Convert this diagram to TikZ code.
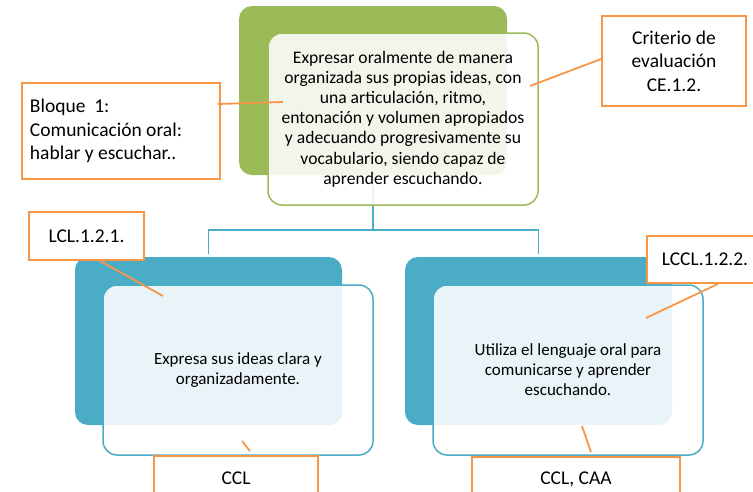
\documentclass[tikz,border=0pt]{standalone}
\usepackage{fontspec}
\setmainfont{Carlito}
\usepackage{tikz}
\usetikzlibrary{positioning, calc}
\definecolor{LeafGreen}{HTML}{9BBB59}
\definecolor{SeaBlue}{HTML}{4BACC6}
\definecolor{MarkOrange}{HTML}{F79646}
\tikzset{
  % Box styles
  backbox/.style={rectangle, rounded corners=13pt, draw=none, inner sep=0pt},
  frontbox/.style={rectangle, rounded corners=14pt, line width=1.5pt, fill=white, fill opacity=0.88, text opacity=1, text=black, align=center, inner sep=0pt, font=\fontsize{17}{20}\selectfont},
  tagbox/.style={rectangle, draw=MarkOrange, line width=1.8pt, fill=white, align=center, inner sep=0pt, font=\fontsize{19.5}{23.5}\selectfont},
  % Line styles
  treeline/.style={draw=SeaBlue, line width=1.5pt},
  tagline/.style={draw=MarkOrange, line width=1.8pt}
}

\begin{document}
\begin{tikzpicture}[x=1pt, y=-1pt]
  \useasboundingbox (0,0) rectangle (753,491);

  % Back blocks
  \node[backbox, fill=LeafGreen, minimum width=268pt, minimum height=169pt] (topback) at (373,90.5) {};
  \node[backbox, fill=SeaBlue, minimum width=267pt, minimum height=168pt] (leftback) at (208.5,341) {};
  \node[backbox, fill=SeaBlue, minimum width=267pt, minimum height=168pt] (rightback) at (538.5,341) {};

  % Tree
  \draw[treeline] (topback.south) -- ++(0,55) coordinate (split);
  \draw[treeline] (split) -| ([yshift=3pt]leftback.north);
  \draw[treeline] (split) -| ([yshift=3pt]rightback.north);

  % Front blocks
  \node[frontbox, draw=LeafGreen, minimum width=270pt, minimum height=172pt, font=\fontsize{17.6}{20.2}\selectfont] (topfront) at (403,119)
    {Expresar oralmente de manera\\organizada sus propias ideas, con\\una articulación, ritmo,\\entonación y volumen apropiados\\y adecuando progresivamente su\\vocabulario, siendo capaz de\\aprender escuchando.};
  \node[frontbox, draw=SeaBlue, minimum width=270pt, minimum height=170pt] (leftfront) at (238,370)
    {Expresa sus ideas clara y\\organizadamente.};
  \node[frontbox, draw=SeaBlue, minimum width=270pt, minimum height=170pt] (rightfront) at (568,370)
    {Utiliza el lenguaje oral para\\comunicarse y aprender\\escuchando.};

  % Tags
  \node[tagbox, text width=182pt, inner xsep=8pt, align=left, minimum height=96pt] (bloque) at (121,131)
    {\spaceskip=0pt \xspaceskip=0pt Bloque\ \ 1:\\Comunicación oral:\\hablar y escuchar..};
  \node[tagbox, minimum width=144pt, minimum height=90pt] (criterio) at (674,61)
    {Criterio de\\evaluación\\CE.1.2.};
  \node[tagbox, minimum width=115pt, minimum height=48pt] (lcl) at (86.5,236) {LCL.1.2.1.};
  \node[tagbox, minimum width=116pt, minimum height=47pt] (lccl) at (705,259.5) {LCCL.1.2.2.};
  \node[tagbox, minimum width=164pt, minimum height=44pt] (ccl) at (236,478) {CCL};
  \node[tagbox, minimum width=208pt, minimum height=44pt] (cclcaa) at (576,479) {CCL, CAA};

  % Tag connectors
  \coordinate (pinbloque) at (283,102);
  \coordinate (pincriterio) at (530,86);
  \coordinate (pinlcl) at (163,296);
  \coordinate (pinlccl) at (646,318);
  \coordinate (pinccl) at (242,441);
  \coordinate (pincclcaa) at (582,426);
  \draw[tagline] ([xshift=-3pt, yshift=27pt]bloque.east) -- (pinbloque);
  \draw[tagline] (pincriterio) -- ([yshift=2pt]criterio.west);
  \draw[tagline] ([xshift=13.5pt]lcl.south) -- (pinlcl);
  \draw[tagline] (pinlccl) -- ([xshift=13pt]lccl.south);
  \draw[tagline] (pinccl) -- ([xshift=14pt, yshift=4pt]ccl.north);
  \draw[tagline] (pincclcaa) -- ([xshift=15pt, yshift=4pt]cclcaa.north);
\end{tikzpicture}
\end{document}
